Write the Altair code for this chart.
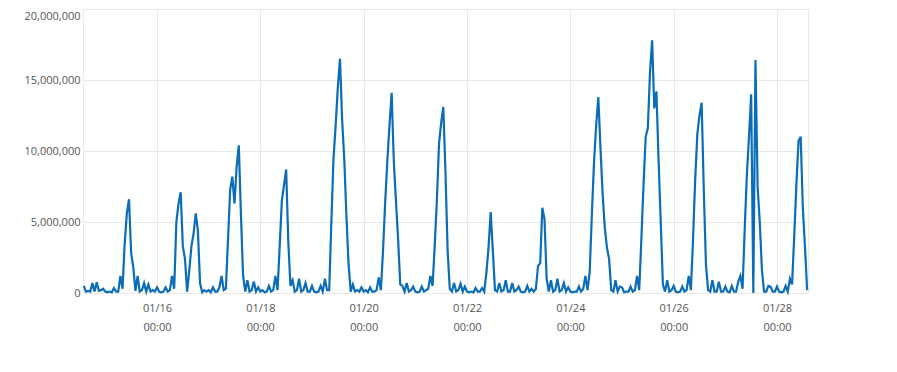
import altair as alt
import pandas as pd
from datetime import datetime, timedelta, timezone

# Hourly values in millions, one list per calendar day (UTC)
d0114 = [0.5, 0.1, 0.15, 0.1, 0.7, 0.1, 0.75, 0.15, 0.2, 0.3]  # 14:00-23:00
d0115 = [0.1, 0.05, 0.1, 0.05, 0.35, 0.1, 0.1, 1.2, 0.3, 3.5, 5.6, 6.6,
         2.8, 1.8, 0.15, 1.2, 0.1, 0.2, 0.7, 0.1, 0.6, 0.1, 0.2, 0.1]
d0116 = [0.4, 0.1, 0.05, 0.1, 0.4, 0.1, 0.2, 1.2, 0.3, 5.0, 6.3, 7.1,
         3.3, 2.4, 0.1, 1.6, 3.3, 4.2, 5.6, 4.4, 0.7, 0.05, 0.2, 0.1]
d0117 = [0.2, 0.05, 0.4, 0.1, 0.1, 0.4, 1.2, 0.2, 0.3, 3.8, 7.3, 8.2,
         6.3, 8.9, 10.4, 5.5, 1.2, 0.1, 0.9, 0.1, 0.2, 0.8, 0.1, 0.4]
d0118 = [0.1, 0.2, 0.05, 0.1, 0.5, 0.1, 0.2, 1.2, 0.2, 3.3, 6.5, 7.6,
         8.7, 3.6, 0.5, 0.9, 0.1, 0.2, 1.0, 0.1, 0.2, 0.7, 0.1, 0.1]
d0119 = [0.5, 0.1, 0.05, 0.1, 0.5, 0.1, 1.0, 0.2, 0.2, 5.0, 9.5, 11.8,
         14.5, 16.5, 12.2, 9.4, 5.4, 2.0, 0.1, 0.6, 0.1, 0.2, 0.1, 0.4]
d0120 = [0.1, 0.2, 0.05, 0.4, 0.1, 0.1, 0.2, 1.1, 0.2, 3.0, 6.4, 9.3,
         11.8, 14.1, 9.3, 6.5, 3.8, 0.6, 0.5, 0.1, 0.7, 0.1, 0.2, 0.45]
d0121 = [0.1, 0.05, 0.1, 0.45, 0.1, 0.2, 0.3, 1.2, 0.5, 3.3, 6.5, 10.5,
         12.0, 13.1, 8.5, 3.0, 0.3, 0.1, 0.7, 0.1, 0.2, 0.65, 0.1, 0.45]
d0122 = [0.1, 0.05, 0.1, 0.05, 0.35, 0.1, 0.1, 0.35, 0.1, 1.4, 3.2, 5.7,
         3.0, 0.2, 0.1, 0.7, 0.1, 0.2, 0.9, 0.1, 0.1, 0.7, 0.1, 0.2]
d0123 = [0.45, 0.1, 0.05, 0.1, 0.5, 0.1, 0.3, 0.1, 0.3, 1.9, 2.1, 6.0,
         5.2, 1.0, 0.1, 0.9, 0.1, 0.2, 1.0, 0.1, 0.2, 0.7, 0.1, 0.4]
d0124 = [0.1, 0.05, 0.1, 0.1, 0.45, 0.1, 0.3, 1.2, 0.2, 1.5, 5.5, 9.2,
         11.8, 13.8, 10.2, 7.0, 4.6, 3.2, 2.4, 0.2, 0.1, 0.9, 0.1, 0.45]
d0125 = [0.4, 0.05, 0.1, 0.1, 0.45, 0.1, 0.2, 1.2, 0.2, 3.8, 7.6, 11.0,
         11.6, 15.5, 17.8, 13.0, 14.2, 9.3, 5.0, 0.6, 0.1, 0.9, 0.1, 0.2]
d0126 = [0.5, 0.1, 0.05, 0.1, 0.45, 0.1, 0.2, 1.2, 0.2, 3.8, 8.0, 11.2,
         12.5, 13.4, 7.2, 2.0, 0.2, 0.1, 0.9, 0.1, 0.1, 0.8, 0.1, 0.1]
d0127 = [0.45, 0.1, 0.05, 0.5, 0.1, 0.1, 0.8, 1.2, 0.3, 4.5, 8.3, 11.0,
         14.0, 0.0, 16.4, 7.5, 5.0, 1.6, 0.1, 0.1, 0.5, 0.45, 0.1, 0.1]
d0128 = [0.45, 0.1, 0.05, 0.1, 0.5, 0.1, 1.0, 0.6, 4.0, 7.6, 10.7, 11.0,
         6.0, 3.2, 0.2]  # 00:00-14:00

y_ticks = [0, 5000000, 10000000, 15000000, 20000000]
tick_days = [16, 18, 20, 22, 24, 26, 28]

UTC = timezone.utc
START = datetime(2023, 1, 14, 14, 0, tzinfo=UTC)
days = [d0114, d0115, d0116, d0117, d0118, d0119, d0120, d0121,
        d0122, d0123, d0124, d0125, d0126, d0127, d0128]
values = [v for d in days for v in d]
times = [(START + timedelta(hours=i)).strftime("%Y-%m-%dT%H:%M:%SZ")
         for i in range(len(values))]
df = pd.DataFrame({"t": times, "v": [v * 1e6 for v in values]})


def ms(dt):
    return int(dt.timestamp() * 1000)


tick_ms = [ms(datetime(2023, 1, d, tzinfo=UTC)) for d in tick_days]
dom = [ms(datetime(2023, 1, 14, 13, 38, tzinfo=UTC)),
       ms(datetime(2023, 1, 28, 14, 24, tzinfo=UTC))]

chart = alt.Chart(df).mark_line(color="#0b6db7", strokeWidth=2.2).encode(
    x=alt.X("t:T",
            scale=alt.Scale(type="utc", domain=dom),
            axis=alt.Axis(values=tick_ms,
                          labelExpr="[utcFormat(datum.value, '%m/%d'), utcFormat(datum.value, '%H:%M')]",
                          title=None, grid=True, ticks=False, domain=False,
                          labelPadding=9, labelLineHeight=19,
                          labelFlush=False, labelOverlap=False)),
    y=alt.Y("v:Q",
            scale=alt.Scale(domain=[0, 20000000], nice=False),
            axis=alt.Axis(values=y_ticks, format=",d", title=None,
                          ticks=False, domain=False, labelPadding=3,
                          labelOffset={"condition": {"test": "datum.value >= 20000000", "value": 7},
                                       "value": 0})),
).properties(
    width=725, height=284,
    autosize=alt.AutoSizeParams(type="none"),
    padding={"left": 75, "top": 1, "right": 60, "bottom": 60},
).configure_axis(
    gridColor="#e8e8e8", labelFont="Open Sans", labelFontSize=11,
    labelColor="#555555",
).configure_view(stroke="#e8e8e8")

chart.save("out.html", embed_options={"renderer": "svg", "actions": False})
